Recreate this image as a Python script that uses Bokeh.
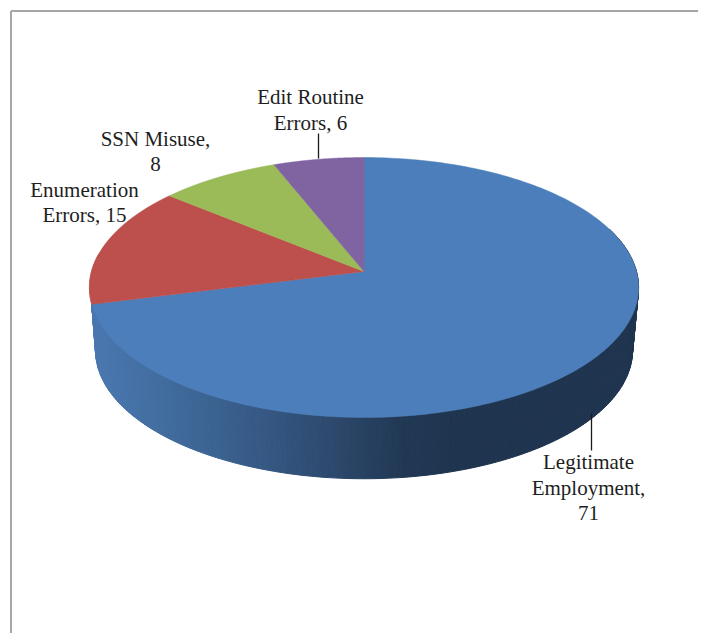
import numpy as np
from bokeh.embed import file_html
from bokeh.resources import INLINE
from bokeh.plotting import figure
from bokeh.models import Range1d
from bokeh.core.properties import value

# data
categories = ["Legitimate Employment", "Enumeration Errors", "SSN Misuse", "Edit Routine Errors"]
values = [71, 15, 8, 6]
colors = ["#4c7ebb", "#bd4f4c", "#9bbb59", "#8064a2"]

label_lines = ["Edit Routine", "Errors, 6", "SSN Misuse,", "8", "Enumeration", "Errors, 15",
               "Legitimate", "Employment,", "71"]
label_x = [310, 310, 155, 155, 84, 84, 588, 588, 588]
label_y = [96, 122, 138, 163, 189, 214, 461, 487, 512]

# layout of the tilted pie (pixels in the picture)
CX, TOP_Y, BOT_Y = 363.5, 271.0, 334.0
A_TOP, B_TOP = 272.5, 128.0
A_BOT, B_BOT = 266.5, 126.5
K = 0.123
W, H = 698, 633


def rim(theta, a, b, y0):
    u, v = np.sin(theta), np.cos(theta)
    d = 1 + K * v
    return CX + a * u / d, y0 - b * v / d


p = figure(width=W, height=H, output_backend="svg", toolbar_location=None,
           x_range=Range1d(0, W), y_range=Range1d(H, 0),
           min_border=0, background_fill_color="white", border_fill_color="white",
           outline_line_color=None)
p.axis.visible = False
p.grid.visible = False

# frame
p.segment(x0=[10.5, 10.5], y0=[H, 10.5], x1=[10.5, W], y1=[10.5, 10.5],
          line_color="#a6a6a6", line_width=2)

fractions = np.cumsum([0] + values) / sum(values)
angles = fractions * 2 * np.pi

# wall shading along x
stop_x = [90, 170, 250, 340, 400, 460, 640]
stop_rgb = np.array([[0x4a, 0x78, 0xb0], [0x40, 0x6b, 0x9c], [0x37, 0x5b, 0x88],
                     [0x2c, 0x47, 0x6a], [0x22, 0x39, 0x55], [0x1f, 0x34, 0x4f], [0x1f, 0x34, 0x4f]])


def shade(x):
    c = [int(np.interp(x, stop_x, stop_rgb[:, i])) for i in range(3)]
    return "#%02x%02x%02x" % tuple(c)


wall_xs, wall_ys, wall_cols = [], [], []


def add_quad(t_top0, t_top1, t_bot0, t_bot1, col=None):
    x0, y0 = rim(t_top0, A_TOP, B_TOP, TOP_Y)
    x1, y1 = rim(t_top1, A_TOP, B_TOP, TOP_Y)
    x2, y2 = rim(t_bot1, A_BOT, B_BOT, BOT_Y)
    x3, y3 = rim(t_bot0, A_BOT, B_BOT, BOT_Y)
    wall_xs.append([x0, x1, x2, x3])
    wall_ys.append([y0, y1, y2, y3])
    wall_cols.append(col or shade((x0 + x1) / 2))


# pale red sliver at the far left, behind the blue wall
far = np.radians(278.0)
red_ts = np.linspace(angles[1], far, 14)
for t0, t1 in zip(red_ts[:-1], red_ts[1:]):
    add_quad(t0, t1, far, far, "#c98a88")

# blue wall from the right of the pie round the front, fanning out at its left end
ts = np.radians(np.arange(70, 256, 1.0))
ts = np.append(ts, angles[1])
for t0, t1 in zip(ts[:-1], ts[1:]):
    add_quad(t0, t1, t0, t1)
fan = np.linspace(angles[1], far, 14)
for t0, t1 in zip(fan[:-1], fan[1:]):
    add_quad(angles[1], angles[1], t0, t1)

p.patches(wall_xs, wall_ys, fill_color=wall_cols, line_color=wall_cols, line_width=1)

# top faces
for start, end, col in zip(angles[:-1], angles[1:], colors):
    th = np.linspace(start, end, 240)
    x, y = rim(th, A_TOP, B_TOP, TOP_Y)
    p.patch(np.r_[CX, x], np.r_[TOP_Y, y], fill_color=col, line_color=col, line_width=0.5)

# leader lines
p.segment(x0=[318, 591], y0=[133, 413], x1=[318, 591], y1=[158, 450],
          line_color="#1a1a1a", line_width=1.3)

# labels
p.text(label_x, label_y, text=label_lines, text_font=value("Liberation Serif"),
       text_font_size="21px", text_color="#1e1e1e", text_align="center",
       text_baseline="middle")

open("out.html", "w").write(file_html(p, INLINE))
